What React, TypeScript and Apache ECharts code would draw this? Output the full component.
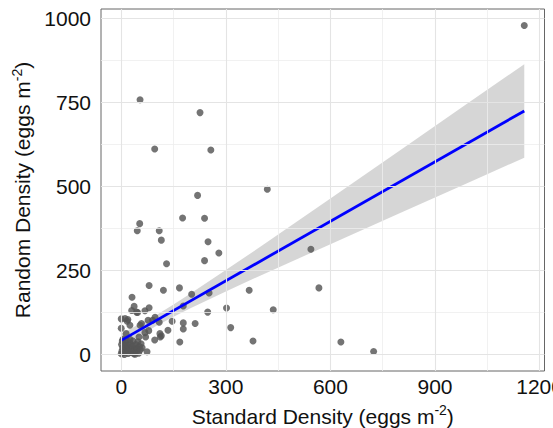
import React, { useEffect, useRef } from 'react';
import * as echarts from 'echarts';

const standardDensity = [
  1156, 54, 226, 96, 257, 419, 219, 176, 239, 53, 46, 109, 115, 249, 280, 544, 239, 130,
  80, 167, 121, 367, 567, 202, 252, 31, 178, 37, 80, 30, 68, 47, 248, 302, 436, 97,
  0, 19, 17, 58, 77, 109, 146, 178, 212, 178, 134, 314, 0, 14, 79, 68, 112, 115,
  96, 168, 378, 51, 74, 630, 724, 11, 25, 54, 90, 111, 70, 44, 40,
  0, 2, 4, 1, 3, 6, 8, 10, 12, 9, 14, 16, 18, 15, 20, 22, 24, 26, 28, 30,
  32, 34, 36, 38, 40, 42, 44, 46, 48, 50, 52, 55, 57, 25, 5, 60,
];
const randomDensity = [
  978, 757, 719, 611, 608, 491, 473, 406, 405, 389, 368, 368, 340, 335, 302, 313, 279, 270,
  205, 198, 191, 191, 198, 179, 183, 170, 144, 143, 139, 131, 130, 125, 126, 138, 133, 111,
  106, 104, 99, 92, 102, 96, 99, 94, 92, 76, 72, 80, 78, 62, 71, 65, 52, 56,
  43, 37, 40, 52, 8, 37, 9, 107, 87, 87, 102, 62, 52, 126, 1,
  2, 10, 20, 30, 40, 5, 15, 25, 35, 0, 8, 18, 28, 42, 3, 12, 22, 33, 6, 16,
  26, 40, 2, 12, 20, 30, 8, 16, 38, 4, 24, 14, 32, 45, 45, 20,
];

const fitX = [0, 1156];
const fitY = [42, 724];
const bandX = [0, 50, 100, 150, 200, 300, 400, 600, 800, 1000, 1156];
const bandLower = [22, 54, 85, 112, 138, 187, 235, 328, 421, 513, 585];
const bandUpper = [62, 89, 117, 149, 182, 251, 321, 464, 607, 751, 863];

const xTicks = [0, 300, 600, 900, 1200];
const yTicks = [0, 250, 500, 750, 1000];
const xMinor = [150, 450, 750, 1050];
const yMinor = [125, 375, 625, 875];

const FONT = '"Liberation Sans", Arial, sans-serif';

export default function App() {
  const ref = useRef<HTMLDivElement>(null);
  useEffect(() => {
    if (!ref.current) return;
    const chart = echarts.init(ref.current, null, { renderer: 'svg' });
    const points = standardDensity.map((x, i) => [x, randomDensity[i]]);
    const majorStyle = { color: '#e4e4e4', width: 1.1, type: 'solid' };
    const minorStyle = { color: '#eeeeee', width: 0.8, type: 'solid' };
    const gridLines = [
      ...xMinor.map((v) => ({ xAxis: v, lineStyle: minorStyle })),
      ...yMinor.map((v) => ({ yAxis: v, lineStyle: minorStyle })),
      ...xTicks.map((v) => ({ xAxis: v, lineStyle: majorStyle })),
      ...yTicks.map((v) => ({ yAxis: v, lineStyle: majorStyle })),
    ];
    const richName = {
      t: { fontSize: 21, color: '#111', fontFamily: FONT, lineHeight: 26 },
      s: { fontSize: 14, color: '#111', fontFamily: FONT, verticalAlign: 'top', lineHeight: 14 },
    };
    chart.setOption({
      animation: false,
      grid: {
        left: 101,
        right: 8.5,
        top: 9,
        bottom: 57,
        show: true,
        borderColor: '#666',
        borderWidth: 1,
        backgroundColor: '#fff',
        containLabel: false,
        outerBoundsMode: 'none',
      },
      xAxis: {
        type: 'value',
        min: -58,
        max: 1214,
        axisLine: { show: false },
        splitLine: { show: false },
        axisTick: { show: true, length: 4, lineStyle: { color: '#333' }, customValues: xTicks },
        axisLabel: {
          customValues: xTicks,
          formatter: (v: number) => String(v),
          fontSize: 21,
          color: '#111',
          fontFamily: FONT,
          margin: 5,
          hideOverlap: false,
        },
        name: '{t|Standard Density (eggs m}{s|-2}{t|)}',
        nameLocation: 'middle',
        nameGap: 32,
        nameTextStyle: { fontFamily: FONT, rich: richName },
      },
      yAxis: {
        type: 'value',
        min: -49,
        max: 1027,
        axisLine: { show: false },
        splitLine: { show: false },
        axisTick: { show: true, length: 4, lineStyle: { color: '#333' }, customValues: yTicks },
        axisLabel: {
          customValues: yTicks,
          formatter: (v: number) => String(v),
          fontSize: 21,
          color: '#111',
          fontFamily: FONT,
          margin: 10,
        },
        name: '{t|Random Density (eggs m}{s|-2}{t|)}',
        nameLocation: 'middle',
        nameRotate: 90,
        nameGap: 61,
        nameTextStyle: { fontFamily: FONT, rich: richName },
      },
      series: [
        {
          type: 'line',
          name: 'grid',
          data: [],
          symbol: 'none',
          silent: true,
          z: 1,
          markLine: {
            silent: true,
            symbol: ['none', 'none'],
            label: { show: false },
            animation: false,
            data: gridLines,
          },
        },
        {
          type: 'custom',
          name: 'band',
          silent: true,
          z: 2,
          data: bandX.map((x, i) => [x, bandLower[i], bandUpper[i]]),
          encode: { x: 0, y: [1, 2] },
          renderItem: (params: any, api: any) => {
            if (params.dataIndex !== 0) return null;
            const upperPts = bandX.map((x, i) => api.coord([x, bandUpper[i]]));
            const lowerPts = bandX
              .map((x, i) => api.coord([x, bandLower[i]]))
              .reverse();
            return {
              type: 'polygon',
              shape: { points: upperPts.concat(lowerPts) },
              style: { fill: 'rgba(153,153,153,0.4)', stroke: 'none' },
            };
          },
        },
        {
          type: 'scatter',
          name: 'points',
          data: points,
          symbolSize: 7,
          itemStyle: { color: '#555555', opacity: 0.82 },
          z: 3,
        },
        {
          type: 'line',
          name: 'fit',
          data: fitX.map((x, i) => [x, fitY[i]]),
          symbol: 'none',
          lineStyle: { color: '#0000ff', width: 2.8 },
          z: 4,
        },
      ],
    });
    return () => chart.dispose();
  }, []);
  return (
    <div
      ref={ref}
      style={{ position: 'absolute', left: 0, top: 0, width: 553, height: 428 }}
    />
  );
}
